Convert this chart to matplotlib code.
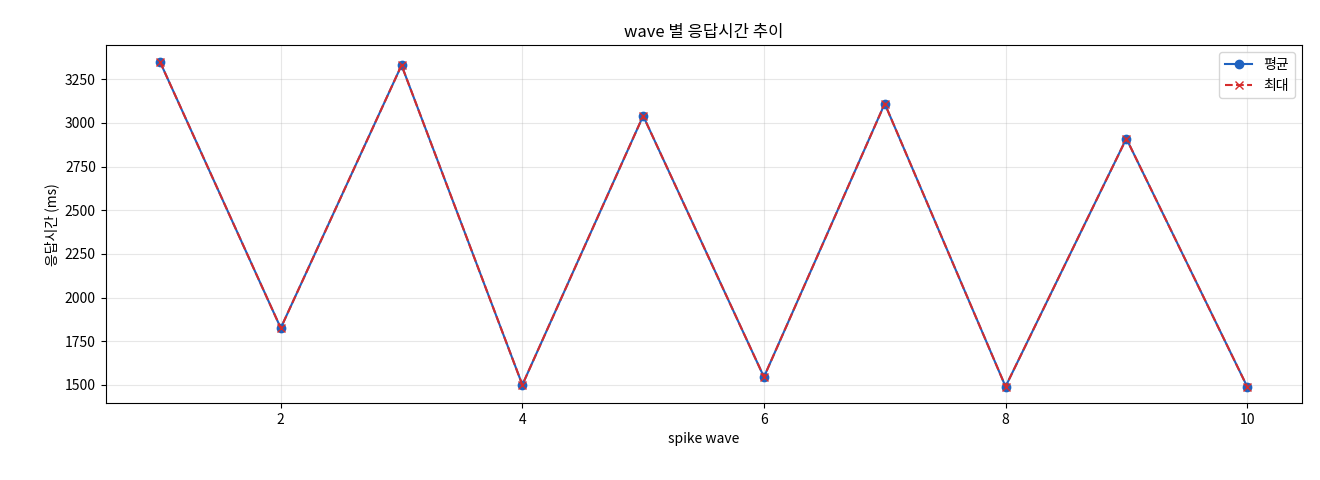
import matplotlib
matplotlib.use("Agg")
import matplotlib.pyplot as plt

plt.rcParams['font.family'] = ['Noto Sans CJK KR', 'DejaVu Sans']
plt.rcParams['axes.unicode_minus'] = False

waves = [1, 2, 3, 4, 5, 6, 7, 8, 9, 10]
avg_ms = [3350, 1825, 3330, 1500, 3040, 1545, 3110, 1490, 2910, 1490]
max_ms = [3350, 1825, 3330, 1500, 3040, 1545, 3110, 1490, 2910, 1490]

fig = plt.figure(figsize=(13.2, 4.8), dpi=100)
ax = fig.add_axes([0.080, 0.160, 0.906, 0.746])
ax.plot(waves, avg_ms, marker='o', color='#1f62c0', label='평균')
ax.plot(waves, max_ms, marker='x', linestyle='--', color='#d62c2c', label='최대')
ax.set_title('wave 별 응답시간 추이')
ax.set_xlabel('spike wave')
ax.set_ylabel('응답시간 (ms)')
ax.set_ylim(1395, 3445)
ax.grid(True, alpha=0.3)
ax.legend(loc='upper right')
fig.savefig('out.png', dpi=100)
